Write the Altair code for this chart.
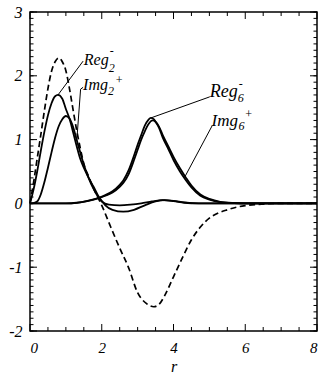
import altair as alt
import pandas as pd

# ---- data ----
dash_r = [0, 0.1, 0.2, 0.3, 0.4, 0.5, 0.6, 0.7, 0.8, 0.9, 1.0, 1.1, 1.2, 1.3, 1.4, 1.5, 1.65, 1.8, 2.0,
          2.25, 2.5, 2.75, 3.0, 3.25, 3.45, 3.6, 3.75, 4.0, 4.25, 4.5, 4.75, 5.0, 5.25, 5.5, 5.75, 6.0, 6.5, 7.0, 8.0]
dash_v = [0, 0.33, 0.70, 1.07, 1.45, 1.80, 2.07, 2.22, 2.28, 2.22, 2.08, 1.80, 1.47, 1.15, 0.87, 0.62, 0.40, 0.20, -0.03,
          -0.37, -0.70, -1.01, -1.40, -1.57, -1.62, -1.58, -1.45, -1.15, -0.85, -0.57, -0.37, -0.23, -0.15, -0.10, -0.06, -0.035, -0.01, 0, 0]

reg2_r = [0, 0.1, 0.2, 0.3, 0.4, 0.5, 0.6, 0.7, 0.78, 0.9, 1.0, 1.1, 1.2, 1.3, 1.4, 1.5, 1.6, 1.7, 1.8, 1.9, 2.0,
          2.1, 2.3, 2.6, 2.9, 3.2, 3.5, 3.75, 4.0, 4.3, 4.7, 8.0]
reg2_v = [0, 0.22, 0.50, 0.82, 1.12, 1.38, 1.57, 1.68, 1.70, 1.64, 1.48, 1.33, 1.12, 0.90, 0.70, 0.56, 0.44, 0.33, 0.23, 0.12, 0.04,
          -0.03, -0.10, -0.13, -0.10, -0.03, 0.03, 0.05, 0.04, 0.015, 0, 0]

img2_r = [0, 0.1, 0.2, 0.3, 0.4, 0.5, 0.6, 0.7, 0.8, 0.9, 1.0, 1.1, 1.2, 1.3, 1.4, 1.5, 1.6, 1.7, 1.8, 1.9, 2.0,
          2.2, 2.5, 2.8, 3.1, 3.4, 3.7, 4.0, 4.3, 4.7, 8.0]
img2_v = [0, 0.005, 0.03, 0.14, 0.33, 0.56, 0.80, 1.03, 1.21, 1.32, 1.37, 1.33, 1.20, 1.00, 0.80, 0.61, 0.45, 0.31, 0.20, 0.10, 0.03,
          -0.02, -0.03, -0.02, 0.0, 0.03, 0.05, 0.035, 0.01, 0, 0]

reg6_r = [0, 1.0, 1.3, 1.6, 1.9, 2.1, 2.3, 2.5, 2.6, 2.75, 2.9, 3.0, 3.1, 3.2, 3.3, 3.37, 3.45, 3.5, 3.6, 3.7, 3.85,
          4.0, 4.18, 4.35, 4.5, 4.75, 5.0, 5.3, 5.7, 6.0, 8.0]
reg6_v = [0, 0, 0.01, 0.04, 0.085, 0.13, 0.19, 0.29, 0.36, 0.52, 0.75, 0.92, 1.07, 1.22, 1.31, 1.34, 1.32, 1.28, 1.18, 1.03, 0.86,
          0.68, 0.50, 0.36, 0.25, 0.12, 0.06, 0.02, 0.005, 0, 0]

img6_r = [0, 1.0, 1.3, 1.6, 1.9, 2.1, 2.3, 2.5, 2.6, 2.75, 2.9, 3.0, 3.1, 3.2, 3.3, 3.42, 3.5, 3.6, 3.7, 3.85,
          4.0, 4.18, 4.35, 4.5, 4.75, 5.0, 5.3, 5.7, 6.0, 8.0]
img6_v = [0, 0, 0.008, 0.035, 0.08, 0.12, 0.17, 0.26, 0.32, 0.46, 0.68, 0.84, 1.00, 1.13, 1.24, 1.30, 1.28, 1.20, 1.07, 0.90,
          0.73, 0.55, 0.40, 0.28, 0.14, 0.07, 0.025, 0.006, 0, 0]

# leader lines (data coordinates): segment id, point order, r, v
lead_id = ["reg2", "reg2", "img2", "img2", "img2", "reg6", "reg6", "img6", "img6"]
lead_ord = [0, 1, 0, 1, 2, 0, 1, 0, 1]
lead_r = [0.78, 1.48, 1.31, 1.41, 1.48, 3.37, 5.01, 4.32, 5.08]
lead_v = [1.70, 2.23, 1.03, 1.79, 1.82, 1.34, 1.67, 0.42, 1.22]

# curve labels: base text, subscript, superscript, anchor (r, v)
lab_base = ["Reg", "Img", "Reg", "Img"]
lab_sub = ["2", "2", "6", "6"]
lab_sup = ["-", "+", "-", "+"]
lab_r = [1.50, 1.48, 5.01, 5.06]
lab_v = [2.17, 1.78, 1.66, 1.21]

x_major = [0, 2, 4, 6, 8]
x_minor = [0.5, 1, 1.5, 2.5, 3, 3.5, 4.5, 5, 5.5, 6.5, 7, 7.5]
y_major = [-2, -1, 0, 1, 2, 3]
y_minor = [round(-2 + 0.1 * i, 1) for i in range(51)]

W, H = 287, 319
FONT = "Liberation Serif"

solid = pd.concat([
    pd.DataFrame({"r": reg2_r, "v": reg2_v, "s": "Reg2"}),
    pd.DataFrame({"r": img2_r, "v": img2_v, "s": "Img2"}),
    pd.DataFrame({"r": reg6_r, "v": reg6_v, "s": "Reg6"}),
    pd.DataFrame({"r": img6_r, "v": img6_v, "s": "Img6"}),
])
dashed = pd.DataFrame({"r": dash_r, "v": dash_v})
leads = pd.DataFrame({"id": lead_id, "o": lead_ord, "r": lead_r, "v": lead_v})

xs = alt.Scale(domain=[0, 8], nice=False, zero=False)
ys = alt.Scale(domain=[-2, 3], nice=False, zero=False)

X = alt.X("r:Q", scale=xs, title="r",
          axis=alt.Axis(values=x_major, ticks=False, tickSize=0, domain=False, grid=False,
                        labelFont=FONT, labelFontStyle="italic", labelFontSize=15, labelColor="black",
                        labelPadding=9, labelExpr="'' + datum.value",
                        titleFont=FONT, titleFontStyle="italic", titleFontWeight="normal",
                        titleFontSize=16, titleColor="black", titleBaseline="alphabetic", titleY=40))
Y = alt.Y("v:Q", scale=ys, title=None,
          axis=alt.Axis(values=y_major, ticks=False, tickSize=0, domain=False, grid=False,
                        labelFont=FONT, labelFontStyle="italic", labelFontSize=16, labelColor="black",
                        labelPadding=8, labelExpr="'' + datum.value"))

lines_solid = alt.Chart(solid).mark_line(color="black", strokeWidth=1.8, interpolate="monotone").encode(
    x=X, y=Y, detail="s:N")
line_dash = alt.Chart(dashed).mark_line(color="black", strokeWidth=1.7, strokeDash=[6, 3.5],
                                        interpolate="monotone").encode(
    x=alt.X("r:Q", scale=xs), y=alt.Y("v:Q", scale=ys))
lead = alt.Chart(leads).mark_line(color="black", strokeWidth=1).encode(
    x=alt.X("r:Q", scale=xs), y=alt.Y("v:Q", scale=ys), detail="id:N", order="o:Q")

# per-label typesetting: font size, subscript dx/dy, superscript dx/dy (pixels)
label_style = [
    (16, 25, 7, 26, -10),
    (16, 25, 5, 32, -6),
    (18, 28, 5, 29, -9),
    (17, 27, 4, 33, -8),
]

texts = []
for i in range(4):
    row = pd.DataFrame({"base": [lab_base[i]], "sub": [lab_sub[i]], "sup": [lab_sup[i]],
                        "r": [lab_r[i]], "v": [lab_v[i]]})
    fs, sdx, sdy, pdx, pdy = label_style[i]
    common = dict(align="left", baseline="alphabetic", font=FONT, fontStyle="italic", color="black")
    enc = dict(x=alt.X("r:Q", scale=xs), y=alt.Y("v:Q", scale=ys))
    texts.append(alt.Chart(row).mark_text(fontSize=fs, **common).encode(text="base:N", **enc))
    texts.append(alt.Chart(row).mark_text(fontSize=12, dx=sdx, dy=sdy, **common).encode(text="sub:N", **enc))
    texts.append(alt.Chart(row).mark_text(fontSize=12, dx=pdx, dy=pdy, **common).encode(text="sup:N", **enc))

# inward tick marks on all four sides
xmaj = pd.DataFrame({"t": x_major})
xmin = pd.DataFrame({"t": x_minor})
ymaj = pd.DataFrame({"t": y_major})
ymin = pd.DataFrame({"t": y_minor})

def xticks(df, length):
    b = alt.Chart(df).mark_rule(color="black", strokeWidth=1).encode(
        x=alt.X("t:Q", scale=xs), y=alt.value(H), y2=alt.value(H - length))
    t = alt.Chart(df).mark_rule(color="black", strokeWidth=1).encode(
        x=alt.X("t:Q", scale=xs), y=alt.value(0), y2=alt.value(length))
    return [b, t]

def yticks(df, length):
    l = alt.Chart(df).mark_rule(color="black", strokeWidth=1).encode(
        y=alt.Y("t:Q", scale=ys), x=alt.value(0), x2=alt.value(length))
    r = alt.Chart(df).mark_rule(color="black", strokeWidth=1).encode(
        y=alt.Y("t:Q", scale=ys), x=alt.value(W), x2=alt.value(W - length))
    return [l, r]

ticks = xticks(xmin, 4) + xticks(xmaj, 7) + yticks(ymin, 3.5) + yticks(ymaj, 7)

chart = alt.layer(lines_solid, line_dash, lead, *texts, *ticks).properties(
    width=W, height=H,
    autosize=alt.AutoSizeParams(type="none"),
    padding={"left": 30, "top": 12, "right": 4, "bottom": 42},
    background="white",
).configure_view(stroke="black", strokeWidth=1.5)

chart.save("out.html", embed_options={"renderer": "svg", "actions": False})
